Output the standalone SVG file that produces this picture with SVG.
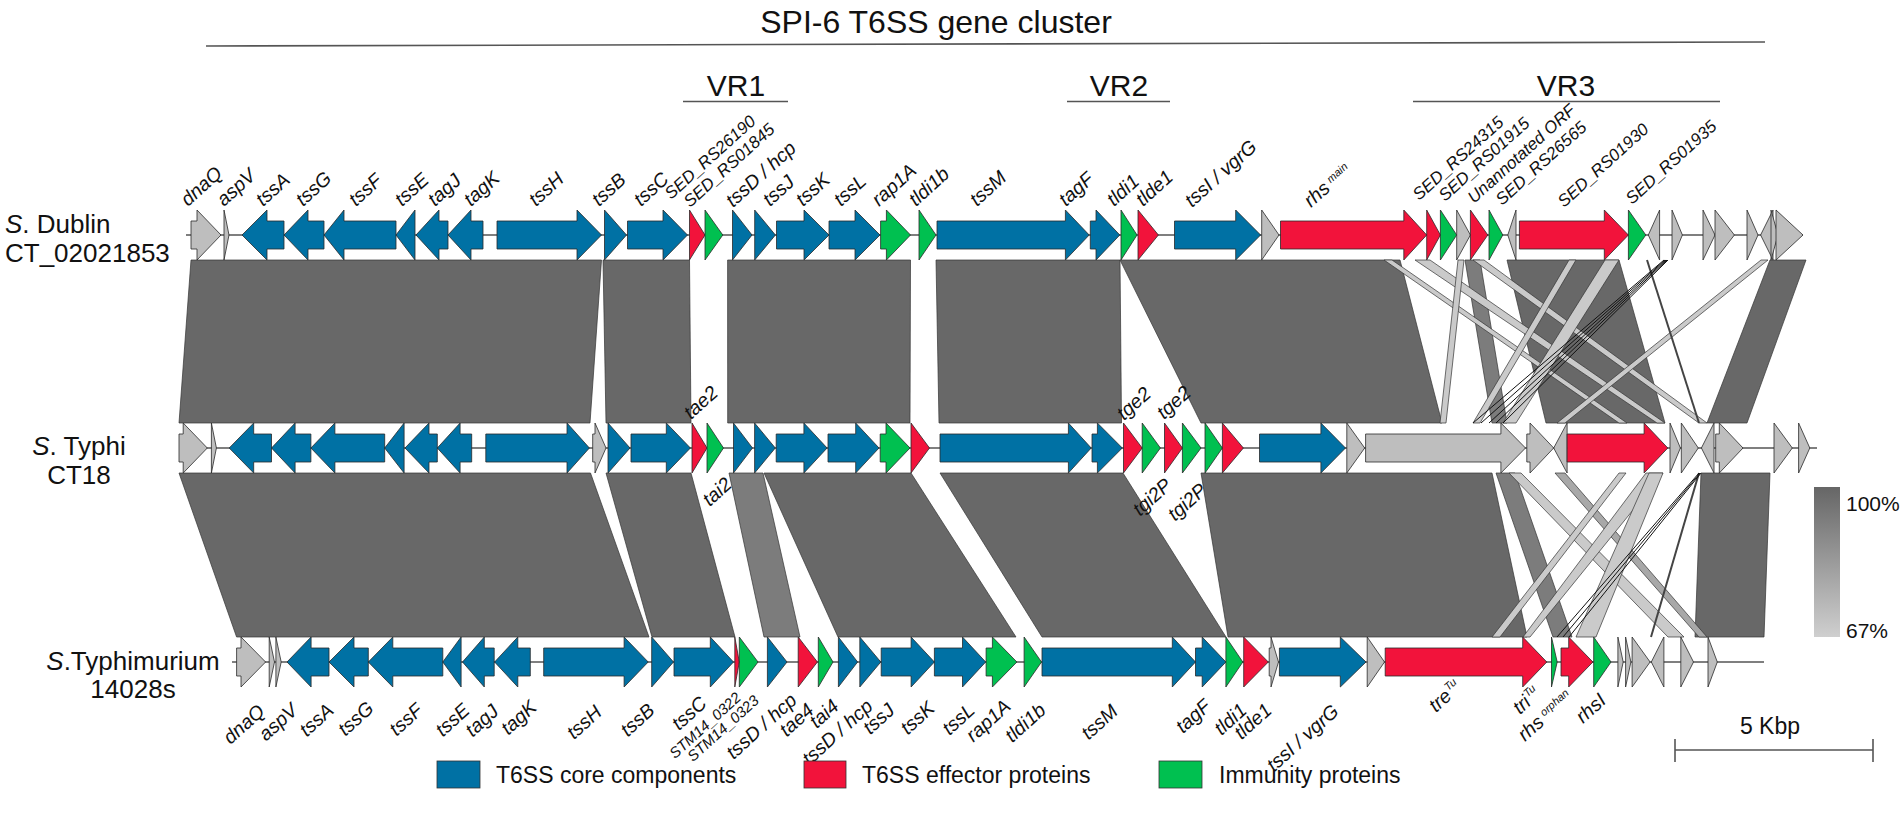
<svg xmlns="http://www.w3.org/2000/svg" width="1902" height="815" viewBox="0 0 1902 815">
<defs>
<style>
text{font-family:'Liberation Sans',Arial,sans-serif;fill:#111}
.g polygon{stroke:#2a2a2a;stroke-width:0.8}
.core{fill:#0071a4}.eff{fill:#f2133b}.imm{fill:#00c050}.oth{fill:#bebebe}
.blk{fill:#686868;stroke:#333;stroke-width:0.7}
.med{fill:#7c7c7c;stroke:#333;stroke-width:0.7}
.lt{fill:#cacaca;stroke:#333;stroke-width:0.7}
.ln{stroke:#111;stroke-width:1}
.dl{stroke:#444;stroke-width:2}
.lab{font-size:19.5px;font-style:italic}
.sed{font-size:17px;font-style:italic}
.sm{font-size:15px;font-style:italic}
.sp{stroke:#555;stroke-width:1.3}
.hd{font-size:26px}
.lg{font-size:23px}
</style>
<linearGradient id="idg" x1="0" y1="0" x2="0" y2="1">
<stop offset="0" stop-color="#666"/><stop offset="1" stop-color="#cfcfcf"/>
</linearGradient>
</defs>
<rect width="1902" height="815" fill="#fff"/>

<!-- headings -->
<g id="title">
<text x="936" y="33" font-size="32" text-anchor="middle">SPI-6 T6SS gene cluster</text>
<line x1="206" y1="46" x2="1765" y2="42" stroke="#555" stroke-width="1.6"/>
<text x="736" y="96" font-size="30" text-anchor="middle">VR1</text>
<line x1="683" y1="101.5" x2="788" y2="101.5" stroke="#555" stroke-width="1.6"/>
<text x="1119" y="96" font-size="30" text-anchor="middle">VR2</text>
<line x1="1067" y1="101.5" x2="1170" y2="101.5" stroke="#555" stroke-width="1.6"/>
<text x="1566" y="96" font-size="30" text-anchor="middle">VR3</text>
<line x1="1413" y1="101.5" x2="1720" y2="101.5" stroke="#555" stroke-width="1.6"/>
</g>

<!-- connectors: similarity blocks -->
<g id="connectors">
<polygon class="blk" points="191,260 601.5,260 590,423 179,423"/>
<polygon class="blk" points="603,260 689.5,260 691,423 606,423"/>
<polygon class="blk" points="727.6,260 910.5,260 910,423 727.7,423"/>
<polygon class="blk" points="936,260 1120,260 1121.5,423 939,423"/>
<polygon class="blk" points="1120,260 1400,260 1442,423 1201,423"/>
<polygon class="blk" points="1507,260 1619,260 1665,423 1546,423"/>
<polygon class="blk" points="1770,260 1806,260 1747,423 1707,423"/>
<polygon class="med" points="1465,260 1480,260 1507,423 1492,423"/>
<polygon class="lt" points="1384,260 1392,260 1627,423 1619,423"/>
<polygon class="lt" points="1415,260 1430,260 1665,423 1657,423"/>
<polygon class="lt" points="1458,260 1464,260 1446,423 1440,423"/>
<polygon class="lt" points="1473,260 1484,260 1707,423 1699,423"/>
<polygon class="lt" points="1569,260 1576,260 1480,423 1473,423"/>
<polygon class="lt" points="1605,260 1619,260 1516,423 1503,423"/>
<polygon class="lt" points="1761,260 1768,260 1565,423 1557,423"/>
<line class="dl" x1="1647" y1="260" x2="1699" y2="423"/>
<line class="ln" x1="1664" y1="260" x2="1473" y2="423"/>
<line class="ln" x1="1665" y1="260" x2="1481" y2="423"/>
<line class="ln" x1="1666" y1="260" x2="1489" y2="423"/>
<line class="ln" x1="1667" y1="260" x2="1496" y2="423"/>
<line class="ln" x1="1668" y1="260" x2="1503" y2="423"/>

<polygon class="blk" points="179,473 590.5,473 649,637 236.6,637"/>
<polygon class="blk" points="606,473 691,473 735,637 652,637"/>
<polygon class="med" points="729,473 763,473 800,637 764,637"/>
<polygon class="blk" points="764,473 911,473 1016,637 838,637"/>
<polygon class="blk" points="940,473 1123,473 1226,637 1042,637"/>
<polygon class="blk" points="1201,473 1492,473 1527,637 1228,637"/>
<polygon class="blk" points="1701,473 1770,473 1764,637 1695,637"/>
<polygon class="med" points="1496,473 1515,473 1572,637 1553,637"/>
<polygon class="lt" points="1509,473 1521,473 1684,637 1668,637"/>
<polygon class="lt" points="1555,473 1565,473 1707,637 1699,637" style="fill:#a8a8a8"/>
<polygon class="lt" points="1619,473 1626,473 1500,637 1492,637"/>
<polygon class="lt" points="1646,473 1663,473 1530,637 1523,637"/>
<polygon class="lt" points="1649,473 1663,473 1596,637 1576,637"/>
<line class="dl" x1="1699" y1="473" x2="1651" y2="637"/>
<line class="ln" x1="1699" y1="473" x2="1557" y2="637"/>
<line class="ln" x1="1700" y1="473" x2="1563" y2="637"/>
<line class="ln" x1="1701" y1="473" x2="1569" y2="637"/>
</g>

<!-- backbones -->
<g id="backbones">
<line class="sp" x1="186" y1="235" x2="1803" y2="235"/>
<line class="sp" x1="179" y1="448" x2="1817" y2="448"/>
<line class="sp" x1="232" y1="662" x2="1764" y2="662"/>
</g>

<!-- species labels -->
<g id="species">
<text class="hd" x="5" y="233"><tspan font-style="italic">S</tspan>. Dublin</text>
<text class="hd" x="5" y="262">CT_02021853</text>
<text class="hd" x="79" y="455" text-anchor="middle"><tspan font-style="italic">S</tspan>. Typhi</text>
<text class="hd" x="79" y="484" text-anchor="middle">CT18</text>
<text class="hd" x="133" y="670" text-anchor="middle"><tspan font-style="italic">S</tspan>.Typhimurium</text>
<text class="hd" x="133" y="698" text-anchor="middle">14028s</text>
</g>

<!-- Row 1: S. Dublin -->
<g id="row1" class="g">
<g id="r1-dnaQ"><polygon class="oth" points="191,221 197,221 197,210 221,235 197,260 197,249 191,249"/><text class="lab" transform="translate(188 207) rotate(-42)">dnaQ</text></g>
<g id="r1-aspV"><polygon class="oth" points="224,210 229,235 224,260"/><text class="lab" transform="translate(224 207) rotate(-42)">aspV</text></g>
<g id="r1-tssA"><polygon class="core" points="242,235 267,210 267,221 284,221 284,249 267,249 267,260"/><text class="lab" transform="translate(263 207) rotate(-42)">tssA</text></g>
<g id="r1-tssG"><polygon class="core" points="284,235 308,210 308,221 324,221 324,249 308,249 308,260"/><text class="lab" transform="translate(303 207) rotate(-42)">tssG</text></g>
<g id="r1-tssF"><polygon class="core" points="324,235 344,210 344,221 396,221 396,249 344,249 344,260"/><text class="lab" transform="translate(356 207) rotate(-42)">tssF</text></g>
<g id="r1-tssE"><polygon class="core" points="396,235 415,210 415,260"/><text class="lab" transform="translate(402 207) rotate(-42)">tssE</text></g>
<g id="r1-tagJ"><polygon class="core" points="416,235 439,210 439,221 448,221 448,249 439,249 439,260"/><text class="lab" transform="translate(435 207) rotate(-42)">tagJ</text></g>
<g id="r1-tagK"><polygon class="core" points="448,235 471,210 471,221 483,221 483,249 471,249 471,260"/><text class="lab" transform="translate(471 207) rotate(-42)">tagK</text></g>
<g id="r1-tssH"><polygon class="core" points="497,221 577,221 577,210 601.5,235 577,260 577,249 497,249"/><text class="lab" transform="translate(536 207) rotate(-42)">tssH</text></g>
<g id="r1-tssB"><polygon class="core" points="604.5,210 626.5,235 604.5,260"/><text class="lab" transform="translate(599 207) rotate(-42)">tssB</text></g>
<g id="r1-tssC"><polygon class="core" points="627.5,221 663,221 663,210 687.5,235 663,260 663,249 627.5,249"/><text class="lab" transform="translate(641 207) rotate(-42)">tssC</text></g>
<g id="r1-SED_RS26190"><polygon class="eff" points="689.5,210 705,235 689.5,260"/><text class="sed" transform="translate(671 200) rotate(-42)">SED_RS26190</text></g>
<g id="r1-SED_RS01845"><polygon class="imm" points="705,210 722.8,235 705,260"/><text class="sed" transform="translate(690 208) rotate(-42)">SED_RS01845</text></g>
<g id="r1-tssD"><polygon class="core" points="732.5,210 752,235 732.5,260"/><text class="lab" transform="translate(733 208) rotate(-42)">tssD / hcp</text></g>
<g id="r1-tssJ"><polygon class="core" points="754.7,210 775.4,235 754.7,260"/><text class="lab" transform="translate(770 207) rotate(-42)">tssJ</text></g>
<g id="r1-tssK"><polygon class="core" points="776.5,221 804,221 804,210 829,235 804,260 804,249 776.5,249"/><text class="lab" transform="translate(803 207) rotate(-42)">tssK</text></g>
<g id="r1-tssL"><polygon class="core" points="829,221 855,221 855,210 880,235 855,260 855,249 829,249"/><text class="lab" transform="translate(841 207) rotate(-42)">tssL</text></g>
<g id="r1-rap1A"><polygon class="imm" points="880.6,221 886.4,221 886.4,210 910.5,235 886.4,260 886.4,249 880.6,249"/><text class="lab" transform="translate(879 207) rotate(-42)">rap1A</text></g>
<g id="r1-tldi1b"><polygon class="imm" points="919,210 936,235 919,260"/><text class="lab" transform="translate(916 207) rotate(-42)">tldi1b</text></g>
<g id="r1-tssM"><polygon class="core" points="937,221 1065.4,221 1065.4,210 1089.2,235 1065.4,260 1065.4,249 937,249"/><text class="lab" transform="translate(977 207) rotate(-42)">tssM</text></g>
<g id="r1-tagF"><polygon class="core" points="1090.3,221 1096,221 1096,210 1119.8,235 1096,260 1096,249 1090.3,249"/><text class="lab" transform="translate(1066 207) rotate(-42)">tagF</text></g>
<g id="r1-tldi1"><polygon class="imm" points="1121,210 1137,235 1121,260"/><text class="lab" transform="translate(1114 207) rotate(-42)">tldi1</text></g>
<g id="r1-tlde1"><polygon class="eff" points="1138,210 1158.4,235 1138,260"/><text class="lab" transform="translate(1143 207) rotate(-42)">tlde1</text></g>
<g id="r1-tssI"><polygon class="core" points="1174.5,221 1235.7,221 1235.7,210 1260.6,235 1235.7,260 1235.7,249 1174.5,249"/><text class="lab" transform="translate(1192 208) rotate(-42)">tssI / vgrG</text></g>
<g id="r1-o1"><polygon class="oth" points="1261.7,210 1279,235 1261.7,260"/></g>
<g id="r1-rhs"><polygon class="eff" points="1280.5,221 1403.8,221 1403.8,210 1426.7,235 1403.8,260 1403.8,249 1280.5,249"/><text class="lab" transform="translate(1311 208) rotate(-42)">rhs<tspan font-size="11" dx="4" dy="-5">main</tspan></text></g>
<g id="r1-SED_RS24315"><polygon class="eff" points="1426.7,210 1440.4,235 1426.7,260"/><text class="sed" transform="translate(1419 201) rotate(-42)">SED_RS24315</text></g>
<g id="r1-SED_RS01915"><polygon class="imm" points="1440.4,210 1456.7,235 1440.4,260"/><text class="sed" transform="translate(1445 202) rotate(-42)">SED_RS01915</text></g>
<g id="r1-o2"><polygon class="oth" points="1456.7,210 1470.4,235 1456.7,260"/></g>
<g id="r1-orf"><polygon class="eff" points="1470.4,210 1487.8,235 1470.4,260"/><text class="sed" transform="translate(1474 204) rotate(-42)">Unannotated ORF</text></g>
<g id="r1-SED_RS26565"><polygon class="imm" points="1489,210 1502.8,235 1489,260"/><text class="sed" transform="translate(1502 206) rotate(-42)">SED_RS26565</text></g>
<g id="r1-o3"><polygon class="oth" points="1507.8,235 1516,210 1516,260"/></g>
<g id="r1-SED_RS01930"><polygon class="eff" points="1519.4,221 1604.3,221 1604.3,210 1628.4,235 1604.3,260 1604.3,249 1519.4,249"/><text class="sed" transform="translate(1564 208) rotate(-42)">SED_RS01930</text></g>
<g id="r1-SED_RS01935"><polygon class="imm" points="1628.4,210 1645.8,235 1628.4,260"/><text class="sed" transform="translate(1632 205) rotate(-42)">SED_RS01935</text></g>
<g id="r1-o4"><polygon class="oth" points="1648.3,235 1659.6,210 1659.6,260"/></g>
<g id="r1-o5"><polygon class="oth" points="1672,210 1682.4,235 1672,260"/></g>
<g id="r1-o6"><polygon class="oth" points="1703,210 1715,235 1703,260"/></g>
<g id="r1-o7"><polygon class="oth" points="1715,210 1734.4,235 1715,260"/></g>
<g id="r1-o8"><polygon class="oth" points="1747,210 1758,235 1747,260"/></g>
<g id="r1-o9"><polygon class="oth" points="1760.6,235 1773,210 1773,260"/></g>
<g id="r1-o10"><polygon class="oth" points="1771,210 1778,235 1771,260"/></g>
<g id="r1-o11"><polygon class="oth" points="1776,210 1803,235 1776,260"/></g>
</g>

<!-- Row 2: S. Typhi -->
<g id="row2" class="g">
<g id="r2-dnaQ"><polygon class="oth" points="179,434 183.2,434 183.2,423 207.3,448 183.2,473 183.2,462 179,462"/></g>
<g id="r2-aspV"><polygon class="oth" points="211.4,423 216.4,448 211.4,473"/></g>
<g id="r2-tssA"><polygon class="core" points="229.2,448 253.7,423 253.7,434 271.5,434 271.5,462 253.7,462 253.7,473"/></g>
<g id="r2-tssG"><polygon class="core" points="271.5,448 295.1,423 295.1,434 310.9,434 310.9,462 295.1,462 295.1,473"/></g>
<g id="r2-tssF"><polygon class="core" points="310.9,448 334.9,423 334.9,434 384.7,434 384.7,462 334.9,462 334.9,473"/></g>
<g id="r2-tssE"><polygon class="core" points="384.7,448 404.1,423 404.1,473"/></g>
<g id="r2-tagJ"><polygon class="core" points="405,448 429,423 429,434 437.3,434 437.3,462 429,462 429,473"/></g>
<g id="r2-tagK"><polygon class="core" points="437.3,448 460.1,423 460.1,434 471.7,434 471.7,462 460.1,462 460.1,473"/></g>
<g id="r2-tssH"><polygon class="core" points="485.8,434 567,434 567,423 589.4,448 567,473 567,462 485.8,462"/></g>
<g id="r2-o1"><polygon class="oth" points="592.7,434 595,434 595,423 606,448 595,473 595,462 592.7,462"/></g>
<g id="r2-tssB"><polygon class="core" points="608,423 630,448 608,473"/></g>
<g id="r2-tssC"><polygon class="core" points="631,434 666.3,434 666.3,423 690.4,448 666.3,473 666.3,462 631,462"/></g>
<g id="r2-tae2"><polygon class="eff" points="692,423 707,448 692,473"/><text class="lab" transform="translate(691 420) rotate(-42)">tae2</text></g>
<g id="r2-tai2"><polygon class="imm" points="707,423 723.5,448 707,473"/><text class="lab" text-anchor="end" transform="translate(733 486) rotate(-42)">tai2</text></g>
<g id="r2-tssD"><polygon class="core" points="733.5,423 752.5,448 733.5,473"/></g>
<g id="r2-tssJ"><polygon class="core" points="754.6,423 775.3,448 754.6,473"/></g>
<g id="r2-tssK"><polygon class="core" points="776.2,434 803.9,434 803.9,423 827.1,448 803.9,473 803.9,462 776.2,462"/></g>
<g id="r2-tssL"><polygon class="core" points="828,434 855.7,434 855.7,423 879,448 855.7,473 855.7,462 828,462"/></g>
<g id="r2-rap1A"><polygon class="imm" points="880.2,434 886,434 886,423 910,448 886,473 886,462 880.2,462"/></g>
<g id="r2-e1"><polygon class="eff" points="911,423 929.5,448 911,473"/></g>
<g id="r2-tssM"><polygon class="core" points="940,434 1068.4,434 1068.4,423 1091.2,448 1068.4,473 1068.4,462 940,462"/></g>
<g id="r2-tagF"><polygon class="core" points="1092,434 1097.4,434 1097.4,423 1122.3,448 1097.4,473 1097.4,462 1092,462"/></g>
<g id="r2-tge2a"><polygon class="eff" points="1123.5,423 1142.2,448 1123.5,473"/><text class="lab" transform="translate(1124 421) rotate(-42)">tge2</text></g>
<g id="r2-tgi2Pa"><polygon class="imm" points="1142.2,423 1160.4,448 1142.2,473"/><text class="lab" text-anchor="end" transform="translate(1173 487) rotate(-42)">tgi2P</text></g>
<g id="r2-tge2b"><polygon class="eff" points="1164.5,423 1182.4,448 1164.5,473"/><text class="lab" transform="translate(1164 420) rotate(-42)">tge2</text></g>
<g id="r2-tgi2Pb"><polygon class="imm" points="1182.4,423 1201,448 1182.4,473"/><text class="lab" text-anchor="end" transform="translate(1208 492) rotate(-42)">tgi2P</text></g>
<g id="r2-i1"><polygon class="imm" points="1205,423 1222.4,448 1205,473"/></g>
<g id="r2-e2"><polygon class="eff" points="1222.4,423 1243.4,448 1222.4,473"/></g>
<g id="r2-tssI"><polygon class="core" points="1259.5,434 1320.9,434 1320.9,423 1345.5,448 1320.9,473 1320.9,462 1259.5,462"/></g>
<g id="r2-o2"><polygon class="oth" points="1346.8,423 1364.7,448 1346.8,473"/></g>
<g id="r2-o3"><polygon class="oth" points="1365.6,434 1500.9,434 1500.9,423 1525.5,448 1500.9,473 1500.9,462 1365.6,462"/></g>
<g id="r2-o4"><polygon class="oth" points="1526.8,434 1530,434 1530,423 1553.7,448 1530,473 1530,462 1526.8,462"/></g>
<g id="r2-o5"><polygon class="oth" points="1553.7,448 1567.1,423 1567.1,473"/></g>
<g id="r2-e3"><polygon class="eff" points="1567.1,434 1644.1,434 1644.1,423 1667.8,448 1644.1,473 1644.1,462 1567.1,462"/></g>
<g id="r2-o6"><polygon class="oth" points="1670,423 1680.4,448 1670,473"/></g>
<g id="r2-o7"><polygon class="oth" points="1681.3,423 1698.3,448 1681.3,473"/></g>
<g id="r2-o8"><polygon class="oth" points="1701.4,448 1714,423 1714,473"/></g>
<g id="r2-o9"><polygon class="oth" points="1715.7,434 1719.3,434 1719.3,423 1743,448 1719.3,473 1719.3,462 1715.7,462"/></g>
<g id="r2-o10"><polygon class="oth" points="1774,423 1792.3,448 1774,473"/></g>
<g id="r2-o11"><polygon class="oth" points="1798.6,423 1809.8,448 1798.6,473"/></g>
</g>

<!-- Row 3: S. Typhimurium -->
<g id="row3" class="g">
<g id="r3-dnaQ"><polygon class="oth" points="236.6,648 241,648 241,637 265.6,662 241,687 241,676 236.6,676"/><text class="lab" text-anchor="end" transform="translate(266 713) rotate(-42)">dnaQ</text></g>
<g id="r3-aspV"><polygon class="oth" points="269.2,637 274.5,662 269.2,687"/><polygon class="oth" points="275.9,637 281.2,662 275.9,687"/><text class="lab" text-anchor="end" transform="translate(299 712) rotate(-42)">aspV</text></g>
<g id="r3-tssA"><polygon class="core" points="287,662 311.1,637 311.1,648 329,648 329,676 311.1,676 311.1,687"/><text class="lab" text-anchor="end" transform="translate(335 712) rotate(-42)">tssA</text></g>
<g id="r3-tssG"><polygon class="core" points="329,662 354,637 354,648 368.3,648 368.3,676 354,676 354,687"/><text class="lab" text-anchor="end" transform="translate(375 710) rotate(-42)">tssG</text></g>
<g id="r3-tssF"><polygon class="core" points="368.3,662 392.8,637 392.8,648 442.8,648 442.8,676 392.8,676 392.8,687"/><text class="lab" text-anchor="end" transform="translate(424 712) rotate(-42)">tssF</text></g>
<g id="r3-tssE"><polygon class="core" points="442.8,662 461.1,637 461.1,687"/><text class="lab" text-anchor="end" transform="translate(471 712) rotate(-42)">tssE</text></g>
<g id="r3-tagJ"><polygon class="core" points="462.5,662 484.3,637 484.3,648 494.2,648 494.2,676 484.3,676 484.3,687"/><text class="lab" text-anchor="end" transform="translate(500 713) rotate(-42)">tagJ</text></g>
<g id="r3-tagK"><polygon class="core" points="494.6,662 517.8,637 517.8,648 530.3,648 530.3,676 517.8,676 517.8,687"/><text class="lab" text-anchor="end" transform="translate(538 709) rotate(-42)">tagK</text></g>
<g id="r3-tssH"><polygon class="core" points="543.7,648 624.1,648 624.1,637 648.2,662 624.1,687 624.1,676 543.7,676"/><text class="lab" text-anchor="end" transform="translate(603 714) rotate(-42)">tssH</text></g>
<g id="r3-tssB"><polygon class="core" points="651.7,637 673.5,662 651.7,687"/><text class="lab" text-anchor="end" transform="translate(656 712) rotate(-42)">tssB</text></g>
<g id="r3-tssC"><polygon class="core" points="674,648 710.3,648 710.3,637 733.5,662 710.3,687 710.3,676 674,676"/><text class="lab" text-anchor="end" transform="translate(708 705) rotate(-42)">tssC</text></g>
<g id="r3-STM14_0322"><polygon class="eff" points="734.8,637 739.3,662 734.8,687"/><text class="sm" text-anchor="end" transform="translate(742 699) rotate(-42)">STM14_0322</text></g>
<g id="r3-STM14_0323"><polygon class="imm" points="739.3,637 758,662 739.3,687"/><text class="sm" text-anchor="end" transform="translate(760 702) rotate(-42)">STM14_0323</text></g>
<g id="r3-tssD1"><polygon class="core" points="767.4,637 787,662 767.4,687"/><text class="lab" text-anchor="end" transform="translate(798 702) rotate(-42)">tssD / hcp</text></g>
<g id="r3-tae4"><polygon class="eff" points="798.2,637 817.4,662 798.2,687"/><text class="lab" text-anchor="end" transform="translate(815 712) rotate(-42)">tae4</text></g>
<g id="r3-tai4"><polygon class="imm" points="818.3,637 833,662 818.3,687"/><text class="lab" text-anchor="end" transform="translate(840 708) rotate(-42)">tai4</text></g>
<g id="r3-tssD2"><polygon class="core" points="838.4,637 857.6,662 838.4,687"/><text class="lab" text-anchor="end" transform="translate(874 708) rotate(-42)">tssD / hcp</text></g>
<g id="r3-tssJ"><polygon class="core" points="859.8,637 880.8,662 859.8,687"/><text class="lab" text-anchor="end" transform="translate(896 712) rotate(-42)">tssJ</text></g>
<g id="r3-tssK"><polygon class="core" points="881.2,648 911.1,648 911.1,637 934.4,662 911.1,687 911.1,676 881.2,676"/><text class="lab" text-anchor="end" transform="translate(936 710) rotate(-42)">tssK</text></g>
<g id="r3-tssL"><polygon class="core" points="934.4,648 962.5,648 962.5,637 985.7,662 962.5,687 962.5,676 934.4,676"/><text class="lab" text-anchor="end" transform="translate(976 712) rotate(-42)">tssL</text></g>
<g id="r3-rap1A"><polygon class="imm" points="986.1,648 992.4,648 992.4,637 1016.9,662 992.4,687 992.4,676 986.1,676"/><text class="lab" text-anchor="end" transform="translate(1012 708) rotate(-42)">rap1A</text></g>
<g id="r3-tldi1b"><polygon class="imm" points="1024.1,637 1041.5,662 1024.1,687"/><text class="lab" text-anchor="end" transform="translate(1047 712) rotate(-42)">tldi1b</text></g>
<g id="r3-tssM"><polygon class="core" points="1042,648 1172.3,648 1172.3,637 1195.5,662 1172.3,687 1172.3,676 1042,676"/><text class="lab" text-anchor="end" transform="translate(1119 713) rotate(-42)">tssM</text></g>
<g id="r3-tagF"><polygon class="core" points="1195.5,648 1202.2,648 1202.2,637 1225.9,662 1202.2,687 1202.2,676 1195.5,676"/><text class="lab" text-anchor="end" transform="translate(1212 708) rotate(-42)">tagF</text></g>
<g id="r3-tldi1"><polygon class="imm" points="1225.9,637 1242.8,662 1225.9,687"/><text class="lab" text-anchor="end" transform="translate(1248 712) rotate(-42)">tldi1</text></g>
<g id="r3-tlde1"><polygon class="eff" points="1243.7,637 1268.3,662 1243.7,687"/><text class="lab" text-anchor="end" transform="translate(1273 712) rotate(-42)">tlde1</text></g>
<g id="r3-o1"><polygon class="oth" points="1269.2,648 1271,648 1271,637 1278.5,662 1271,687 1271,676 1269.2,676"/></g>
<g id="r3-tssI"><polygon class="core" points="1279.4,648 1340.3,648 1340.3,637 1366,662 1340.3,687 1340.3,676 1279.4,676"/><text class="lab" text-anchor="end" transform="translate(1340 713) rotate(-42)">tssI / vgrG</text></g>
<g id="r3-o2"><polygon class="oth" points="1367.2,637 1384.5,662 1367.2,687"/></g>
<g id="r3-tre"><polygon class="eff" points="1385.2,648 1522.7,648 1522.7,637 1546.8,662 1522.7,687 1522.7,676 1385.2,676"/><text class="lab" transform="translate(1436 713) rotate(-42)">tre<tspan font-size="11" dx="1" dy="-8">Tu</tspan></text></g>
<g id="r3-tri"><polygon class="imm" points="1551.5,637 1557.2,662 1551.5,687"/><text class="lab" transform="translate(1520 715) rotate(-42)">tri<tspan font-size="11" dx="1" dy="-8">Tu</tspan></text></g>
<g id="r3-rhs"><polygon class="eff" points="1561,648 1568.7,648 1568.7,637 1592.9,662 1568.7,687 1568.7,676 1561,676"/><text class="lab" transform="translate(1525 742) rotate(-42)">rhs<tspan font-size="11" dx="4" dy="-6">orphan</tspan></text></g>
<g id="r3-rhsI"><polygon class="imm" points="1593.7,637 1611,662 1593.7,687"/><text class="lab" transform="translate(1583 724) rotate(-42)">rhsI</text></g>
<g id="r3-o3"><polygon class="oth" points="1617.9,637 1623.2,662 1617.9,687"/></g>
<g id="r3-o4"><polygon class="oth" points="1625.6,637 1630.9,662 1625.6,687"/></g>
<g id="r3-o5"><polygon class="oth" points="1632.1,637 1650.1,662 1632.1,687"/></g>
<g id="r3-o6"><polygon class="oth" points="1651.3,662 1663.9,637 1663.9,687"/></g>
<g id="r3-o7"><polygon class="oth" points="1680.8,637 1693.5,662 1680.8,687"/></g>
<g id="r3-o8"><polygon class="oth" points="1708,637 1717.3,662 1708,687"/></g>
</g>

<!-- identity scale -->
<g id="identity-scale">
<rect x="1814" y="487" width="26" height="150" fill="url(#idg)"/>
<text x="1846" y="511" font-size="21">100%</text>
<text x="1846" y="638" font-size="21">67%</text>
</g>

<!-- scale bar -->
<g id="scale-bar" stroke="#555" stroke-width="1.6">
<line x1="1675" y1="750" x2="1873" y2="750"/>
<line x1="1675" y1="739" x2="1675" y2="762"/>
<line x1="1873" y1="739" x2="1873" y2="762"/>
<text x="1770" y="734" font-size="23" text-anchor="middle" stroke="none">5 Kbp</text>
</g>

<!-- legend -->
<g id="legend">
<rect x="437" y="761" width="43" height="27" class="core" stroke="#333" stroke-width="0.8"/>
<text class="lg" x="496" y="783">T6SS core components</text>
<rect x="804" y="761" width="42" height="27" class="eff" stroke="#333" stroke-width="0.8"/>
<text class="lg" x="862" y="783">T6SS effector proteins</text>
<rect x="1159" y="761" width="43" height="27" class="imm" stroke="#333" stroke-width="0.8"/>
<text class="lg" x="1219" y="783">Immunity proteins</text>
</g>
</svg>
